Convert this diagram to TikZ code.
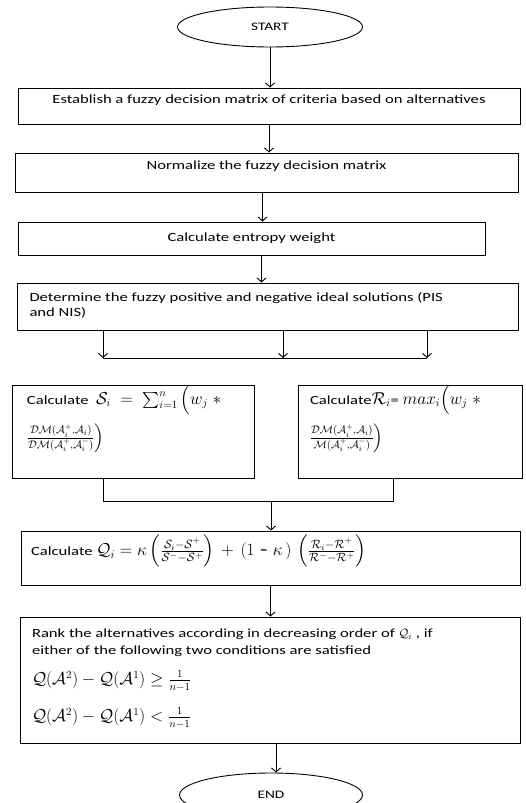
\documentclass[tikz,border=0pt]{standalone}
\usepackage[no-math]{fontspec}
\setmainfont{Carlito}[FakeStretch=1.33]
\usepackage{amsmath,amssymb}
\usetikzlibrary{arrows.meta,shapes.geometric,calc}
\newcommand{\mathsz}{\fontsize{16}{19}\selectfont}

\begin{document}
\begin{tikzpicture}[x=1pt,y=-1pt,line width=0.9pt,
  >={Straight Barb[length=4pt,width=9pt]},
  term/.style={draw,ellipse,minimum width=185pt,minimum height=40pt,font=\fontsize{11.5}{14}\selectfont},
  stepbox/.style={draw,rectangle,inner sep=0pt,font=\fontsize{12.5}{15}\selectfont}]
\useasboundingbox (0,0) rectangle (525,803);

% start and the first steps
\node[term] (start) at (270,27) {START};
\node[stepbox,minimum width=502pt,minimum height=36pt] (b1) at (269,106)
  {\parbox[c][22pt][t]{490pt}{\centering Establish a fuzzy decision matrix of criteria based on alternatives}};
\node[stepbox,minimum width=503pt,minimum height=39pt] (b2) at (266.5,172.5)
  {\parbox[c][23pt][t]{490pt}{\centering Normalize the fuzzy decision matrix}};
\node[stepbox,minimum width=467pt,minimum height=33pt] (b3) at (251.5,238.5)
  {Calculate entropy weight};
\node[stepbox,minimum width=501pt,minimum height=47pt] (b4) at (267.5,306.5)
  {\parbox[c][29pt][t]{476pt}{Determine the fuzzy positive and negative ideal solutions (PIS\\ and NIS)}};

\draw[->] (start.south) -- (start.south |- b1.north);
\draw[->] (b1.south) -- (b1.south |- b2.north);
\draw[->] ($(b2.south)+(-4,0)$) -- ($(b2.south |- b3.north)+(-4,0)$);
\draw[->] ($(b3.south)+(10,0)$) -- ($(b3.south |- b4.north)+(10,0)$);

% split line
\coordinate (splitL) at (103,358);
\coordinate (splitM) at (283,358);
\coordinate (splitR) at (427,358);
\draw[->] (b4.south -| splitL) -- (splitL);
\draw[->] (b4.south -| splitM) -- (splitM);
\draw[->] (b4.south -| splitR) -- (splitR);
\draw (splitL) -- (splitR);

% S and R
\node[stepbox,minimum width=242pt,minimum height=93pt] (sbox) at (133,431.5)
  {\parbox[c][80pt][t]{212pt}{\vspace*{-7pt}Calculate \ {\mathsz$\mathcal{S}_i\ =\ \sum_{i=1}^{n}\Big(w_j\ *$}\\[6pt]
   {\mathsz$\frac{\mathcal{DM}(\mathcal{A}_i^{+},\mathcal{A}_i)}{\mathcal{DM}(\mathcal{A}_i^{+},\mathcal{A}_i^{-})}\Big)$}}};
\node[stepbox,minimum width=224pt,minimum height=93pt] (rbox) at (410,431.5)
  {\parbox[c][80pt][t]{200pt}{\vspace*{-7pt}Calculate{\mathsz$\mathcal{R}_i$}= {\mathsz$max_i\Big(w_j\ *$}\\[6pt]
   {\mathsz$\frac{\mathcal{DM}(\mathcal{A}_i^{+},\mathcal{A}_i)}{\mathcal{M}(\mathcal{A}_i^{+},\mathcal{A}_i^{-})}\Big)$}}};

\coordinate (mergeL) at (103,501);
\coordinate (mergeR) at (393,501);
\coordinate (merge) at (271,501);
\draw (sbox.south -| mergeL) -- (mergeL) -- (mergeR) -- (rbox.south -| mergeR);

% Q and ranking
\node[stepbox,minimum width=499pt,minimum height=54pt] (qbox) at (270.5,558)
  {\parbox[c][46pt][t]{479pt}{Calculate {\fontsize{18}{21}\selectfont$\mathcal{Q}_i=\kappa\left(\frac{\mathcal{S}_i-\mathcal{S}^{+}}{\mathcal{S}^{-}-\mathcal{S}^{+}}\right)\,+\,(1\text{ - }\kappa\,)\,\left(\frac{\mathcal{R}_i-\mathcal{R}^{+}}{\mathcal{R}^{-}-\mathcal{R}^{+}}\right)$}}};
\node[stepbox,minimum width=500pt,minimum height=126pt,font=\fontsize{12.5}{17}\selectfont] (rank) at (270,680)
  {\parbox[c][102pt][t]{476pt}{Rank the alternatives according in decreasing order of $\mathcal{Q}_i$ , if\\
   either of the following two conditions are satisfied\\[13pt]
   {\mathsz$\mathcal{Q}(\mathcal{A}^2)-\mathcal{Q}(\mathcal{A}^1)\geq\frac{1}{n-1}$}\\[15pt]
   {\mathsz$\mathcal{Q}(\mathcal{A}^2)-\mathcal{Q}(\mathcal{A}^1)<\frac{1}{n-1}$}}};
\node[term,minimum width=183pt,minimum height=44pt] (end) at (271,795) {END};

\draw[->] (merge) -- (merge |- qbox.north);
\draw[->] (qbox.south) -- (qbox.south |- rank.north);
\draw[->] ($(rank.south)+(6,0)$) -- ($(rank.south |- end.north)+(6,0)$);
\end{tikzpicture}
\end{document}
